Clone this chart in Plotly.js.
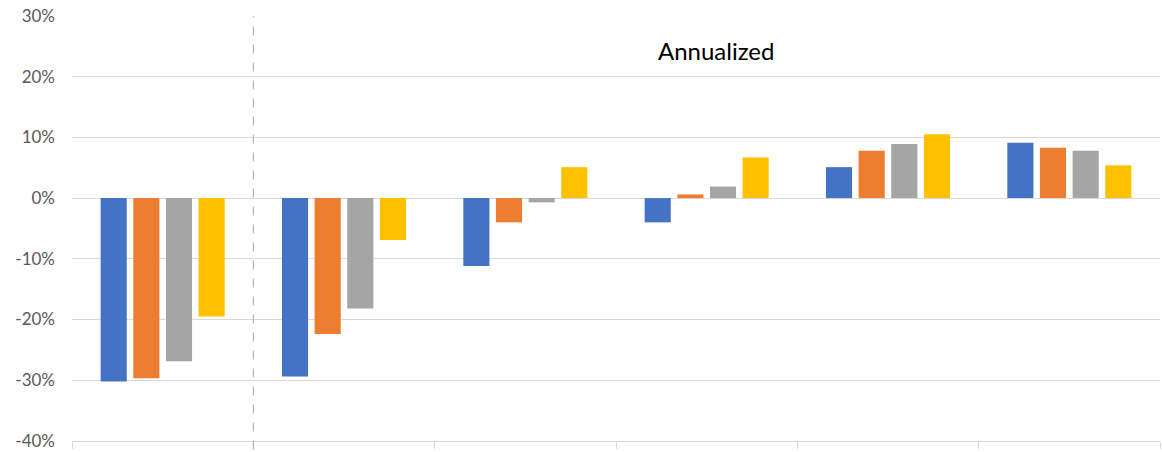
<!DOCTYPE html>
<html>
<head>
<meta charset="utf-8">
<script src="https://cdn.plot.ly/plotly-3.0.1.min.js"></script>
<style>html,body{margin:0;padding:0;background:#fff;}#chart{width:1162px;height:452px;}</style>
</head>
<body>
<div id="chart"></div>
<script>
const categories = ["P1", "P2", "P3", "P4", "P5", "P6"];
const seriesNames = ["Series 1", "Series 2", "Series 3", "Series 4"];
const series1 = [-30.2, -29.4, -11.2, -4.0, 5.1, 9.1];
const series2 = [-29.7, -22.4, -4.0, 0.6, 7.8, 8.3];
const series3 = [-26.9, -18.2, -0.7, 1.9, 8.9, 7.8];
const series4 = [-19.5, -6.9, 5.1, 6.7, 10.5, 5.4];
const colors = ["#4472C4", "#ED7D31", "#A5A5A5", "#FFC000"];
const yTickVals = [-40, -30, -20, -10, 0, 10, 20, 30];
const yTickText = ["-40%", "-30%", "-20%", "-10%", "0%", "10%", "20%", "30%"];
const annotationText = "Annualized";

const allSeries = [series1, series2, series3, series4];
const traces = allSeries.map((vals, i) => ({
  type: "bar",
  name: seriesNames[i],
  x: categories,
  y: vals,
  marker: {color: colors[i], line: {width: 0}},
  hoverinfo: "x+y+name"
}));

const layout = {
  width: 1162,
  height: 452,
  margin: {l: 72, r: 2, t: 16, b: 11},
  paper_bgcolor: "#ffffff",
  plot_bgcolor: "#ffffff",
  showlegend: false,
  barmode: "group",
  bargap: 0.28,
  bargroupgap: 0.2,
  font: {family: "Lato, 'Open Sans', sans-serif", color: "#595959", size: 17},
  xaxis: {
    type: "category",
    showticklabels: false,
    showgrid: false,
    showline: true,
    linecolor: "#d9d9d9",
    linewidth: 1,
    ticks: "outside",
    tickson: "boundaries",
    ticklen: 7,
    tickcolor: "#d9d9d9",
    zeroline: false
  },
  yaxis: {
    range: [-40.02, 30],
    tickvals: yTickVals,
    ticktext: yTickText,
    showgrid: true,
    gridcolor: "#d9d9d9",
    gridwidth: 1,
    zeroline: false,
    showline: false,
    ticks: "",
    ticklabelstandoff: 16,
    ticklabeloverflow: "allow",
    tickfont: {size: 17, color: "#595959"}
  },
  shapes: [{
    type: "line",
    xref: "x",
    yref: "paper",
    x0: 0.5, x1: 0.5,
    y0: -0.02, y1: 1,
    line: {color: "#a6a6a6", width: 1, dash: "dash"}
  }],
  annotations: [{
    text: annotationText,
    xref: "paper",
    yref: "paper",
    x: 0.592,
    y: 0.919,
    showarrow: false,
    xanchor: "center",
    yanchor: "middle",
    font: {size: 24, color: "#000000", family: "Lato, 'Open Sans', sans-serif"}
  }]
};

Plotly.newPlot("chart", traces, layout, {displayModeBar: false, staticPlot: true});
</script>
</body>
</html>
